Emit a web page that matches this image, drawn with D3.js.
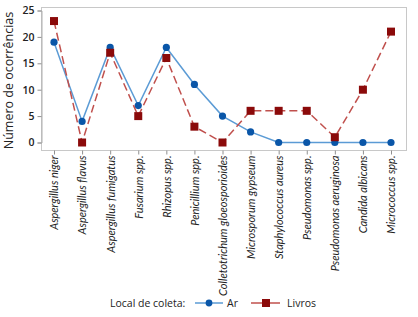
<!DOCTYPE html>
<html>
<head>
<meta charset="utf-8">
<script src="https://cdn.jsdelivr.net/npm/d3@7"></script>
<style>
  body { margin: 0; background: #fff; }
  text { font-family: "Open Sans", "Noto Sans", sans-serif; fill: #222; }
</style>
</head>
<body>
<div id="chart"></div>
<script>
// categories and counts
const species = ["Aspergillus niger", "Aspergillus flavus", "Aspergillus fumigatus", "Fusarium spp.",
  "Rhizopus spp.", "Penicillium spp.", "Colletotrichum gloeosporioides", "Microsporum gypseum",
  "Staphylococcus aureus", "Pseudomonas spp.", "Pseudomonas aeruginosa", "Candida albicans", "Micrococcus spp."];
const arValues = [19, 4, 18, 7, 18, 11, 5, 2, 0, 0, 0, 0, 0];
const livrosValues = [23, 0, 17, 5, 16, 3, 0, 6, 6, 6, 1, 10, 21];
const yTicks = [0, 5, 10, 15, 20, 25];

const width = 418, height = 317;
const plotLeft = 41, plotRight = 406, plotTop = 7, plotBottom = 150;

const svg = d3.select("#chart").append("svg")
  .attr("width", width).attr("height", height);

const x = d3.scalePoint().domain(species).range([54, 391]);
const y = d3.scaleLinear().domain([0, 25]).range([142.5, 10.5]);

// frame
svg.append("rect")
  .attr("x", plotLeft + 0.5).attr("y", plotTop + 0.5)
  .attr("width", plotRight - plotLeft).attr("height", plotBottom - plotTop)
  .attr("fill", "none").attr("stroke", "#c8c8c8");

// y axis
const yAxis = svg.append("g")
  .attr("transform", `translate(${plotLeft + 0.5},0)`)
  .call(d3.axisLeft(y).tickValues(yTicks).tickSize(4).tickPadding(3));
yAxis.select(".domain").attr("stroke", "#b0b0b0");
yAxis.selectAll(".tick line").attr("stroke", "#909090");
yAxis.selectAll(".tick text").style("font-size", "10.5px").style("font-weight", "600").attr("fill", "#222");

// x axis
const xAxis = svg.append("g")
  .attr("transform", `translate(0,${plotBottom + 0.5})`)
  .call(d3.axisBottom(x).tickSize(4).tickSizeOuter(0));
xAxis.select(".domain").remove();
xAxis.selectAll(".tick line").attr("stroke", "#909090");
xAxis.selectAll(".tick text")
  .style("font-family", "Lato, 'Open Sans', sans-serif")
  .style("font-size", "11px")
  .style("font-style", "italic")
  .attr("fill", "#222")
  .attr("text-anchor", "end")
  .attr("transform", "rotate(-90)")
  .attr("x", -5).attr("y", 0).attr("dy", "0.35em");

// y label
svg.append("text")
  .attr("transform", `translate(13,${(plotTop + plotBottom) / 2 + 2}) rotate(-90)`)
  .attr("text-anchor", "middle")
  .style("font-size", "12.5px")
  .text("Número de ocorrências");

const line = d3.line().x((d, i) => x(species[i])).y(d => y(d));

// Ar series
svg.append("path").datum(arValues)
  .attr("d", line).attr("fill", "none")
  .attr("stroke", "#5b9bd5").attr("stroke-width", 1.5);
svg.selectAll("circle.ar").data(arValues).join("circle")
  .attr("class", "ar")
  .attr("cx", (d, i) => x(species[i])).attr("cy", d => y(d))
  .attr("r", 3.6).attr("fill", "#0a56a8");

// Livros series
svg.append("path").datum(livrosValues)
  .attr("d", line).attr("fill", "none")
  .attr("stroke", "#c0504d").attr("stroke-width", 1.5)
  .attr("stroke-dasharray", "8,4");
svg.selectAll("rect.livros").data(livrosValues).join("rect")
  .attr("class", "livros")
  .attr("x", (d, i) => x(species[i]) - 4).attr("y", d => y(d) - 4)
  .attr("width", 8).attr("height", 8)
  .attr("fill", "#8b0a0a");

// legend
const lg = svg.append("g").attr("transform", "translate(0,303)");
lg.append("text").attr("x", 110).attr("dy", "0.35em")
  .style("font-size", "10.5px").text("Local de coleta:");
lg.append("line").attr("x1", 195).attr("x2", 223)
  .attr("stroke", "#5b9bd5").attr("stroke-width", 1.5);
lg.append("circle").attr("cx", 209).attr("r", 3.4).attr("fill", "#0a56a8");
lg.append("text").attr("x", 227).attr("dy", "0.35em")
  .style("font-size", "10.5px").text("Ar");
lg.append("line").attr("x1", 251).attr("x2", 280)
  .attr("stroke", "#c0504d").attr("stroke-width", 1.5);
lg.append("rect").attr("x", 262).attr("y", -4).attr("width", 8).attr("height", 8)
  .attr("fill", "#8b0a0a");
lg.append("text").attr("x", 287).attr("dy", "0.35em")
  .style("font-size", "10.5px").text("Livros");
</script>
</body>
</html>
